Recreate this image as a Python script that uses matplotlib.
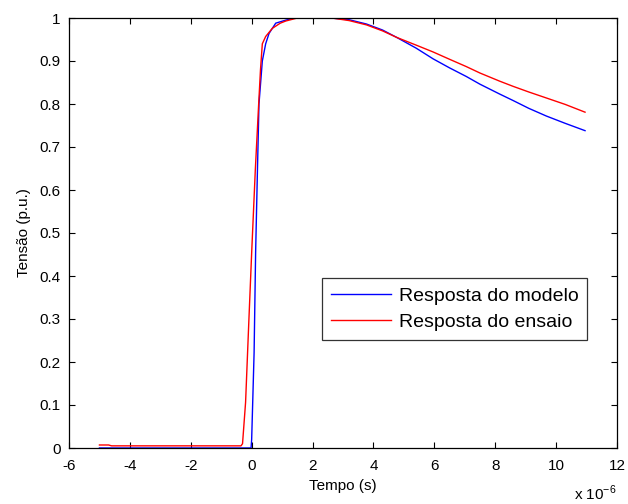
import numpy as np
import matplotlib
matplotlib.use("Agg")
import matplotlib.pyplot as plt

plt.rcParams['font.family'] = ['Liberation Sans', 'DejaVu Sans']
plt.rcParams['mathtext.fontset'] = 'custom'
plt.rcParams['mathtext.rm'] = 'Liberation Sans'

# tempo em microssegundos, tensao em p.u.
t_modelo = [-5, -0.02, 0, 0.08, 0.13, 0.19, 0.24, 0.35, 0.46, 0.57, 0.79, 1.12, 1.4,
            2.6, 3.2, 3.77, 4.3, 4.76, 5.4, 5.96, 6.5, 7.05, 7.5, 8.15, 8.59, 9.1,
            9.68, 10.3, 10.95]
v_modelo = [0, 0, 0.02, 0.222, 0.455, 0.647, 0.80, 0.90, 0.94, 0.964, 0.988, 0.995, 1.0,
            1.0, 0.996, 0.986, 0.972, 0.955, 0.930, 0.905, 0.884, 0.864, 0.846, 0.823,
            0.808, 0.790, 0.772, 0.755, 0.738]

t_ensaio = [-5, -4.7, -4.6, -0.35, -0.3, -0.2, -0.09, 0, 0.12, 0.23, 0.29, 0.35, 0.46,
            0.68, 0.94, 1.12, 1.5, 2.63, 3.2, 3.77, 4.3, 4.76, 5.4, 5.96, 6.5, 7.05,
            7.5, 8.15, 8.59, 9.1, 9.68, 10.3, 10.95]
v_ensaio = [0.007, 0.007, 0.005, 0.005, 0.01, 0.106, 0.30, 0.454, 0.647, 0.80, 0.88,
            0.94, 0.957, 0.976, 0.988, 0.993, 1.0, 1.0, 0.994, 0.984, 0.970, 0.955,
            0.937, 0.921, 0.904, 0.887, 0.872, 0.853, 0.841, 0.828, 0.814, 0.799, 0.781]

x_ticks = [-6, -4, -2, 0, 2, 4, 6, 8, 10, 12]
y_ticks = [0, 0.1, 0.2, 0.3, 0.4, 0.5, 0.6, 0.7, 0.8, 0.9, 1]

fig = plt.figure(figsize=(6.28, 5.04), dpi=100)
ax = fig.add_axes([69/628, 1 - 448/504, 548/628, 430/504])

ax.plot(t_modelo, v_modelo, color=(0, 0, 1), lw=1.0, label="Resposta do modelo")
ax.plot(t_ensaio, v_ensaio, color=(1, 0, 0), lw=1.0, label="Resposta do ensaio")

ax.set_xlim(-6, 12)
ax.set_ylim(0, 1)
ax.set_xticks(x_ticks)
ax.set_xticklabels([str(v) for v in x_ticks])
ax.set_yticks(y_ticks)
ax.set_yticklabels(["%g" % v for v in y_ticks])
ax.tick_params(direction='in', top=True, right=True, length=4, width=0.8,
               labelsize=11, pad=6)
ax.tick_params(axis='x', pad=8)
for s in ax.spines.values():
    s.set_linewidth(0.9)

ax.set_xlabel("Tempo (s)", fontsize=11, labelpad=4)
ax.set_ylabel("Tensão (p.u.)", fontsize=11, labelpad=6)
ax.text(1.0, -0.105, r"x 10$^{\mathregular{-6}}$", transform=ax.transAxes,
        ha='right', va='center', fontsize=11)

leg = ax.legend(loc='upper left', bbox_to_anchor=(0.462, 0.395), fontsize=14,
                frameon=True, fancybox=False, handlelength=3.1, handletextpad=0.4,
                borderpad=0.45, labelspacing=0.45, borderaxespad=0)
leg.get_frame().set_edgecolor('black')
leg.get_frame().set_linewidth(0.9)

fig.savefig("out.png", dpi=100)
